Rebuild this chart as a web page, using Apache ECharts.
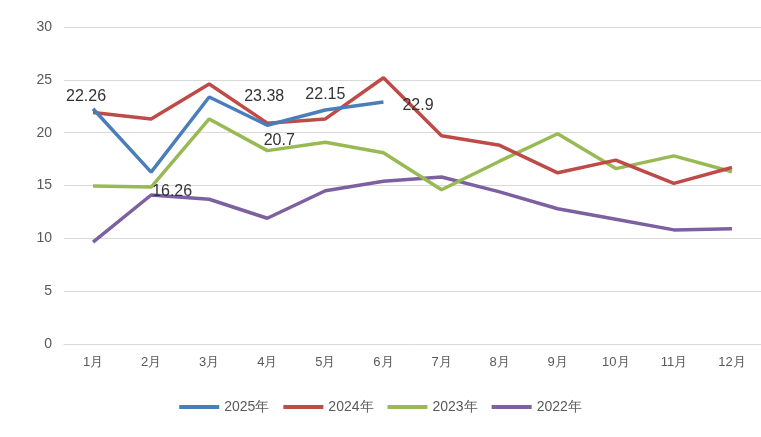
<!DOCTYPE html><html><head><meta charset="utf-8"><script src="https://cdn.jsdelivr.net/npm/echarts@6/dist/echarts.min.js"></script></head><body style="margin:0"><div id="c" style="width:761px;height:437px"></div><script>
const categories=['1月','2月','3月','4月','5月','6月','7月','8月','9月','10月','11月','12月'];
const s2025=[22.26,16.26,23.38,20.7,22.15,22.9];
const s2024=[21.9,21.3,24.6,20.9,21.3,25.2,19.7,18.8,16.2,17.4,15.2,16.7];
const s2023=[14.95,14.85,21.3,18.3,19.1,18.1,14.6,17.3,19.9,16.6,17.8,16.3];
const s2022=[9.65,14.1,13.7,11.9,14.5,15.4,15.8,14.4,12.8,11.8,10.8,10.9];
const labelPos=[['left',[18,-12]],['right',[-4,19]],['right',[30,0]],['bottom',[12,2]],['top',[0,-2]],['right',[14,4]]];
const ch=echarts.init(document.getElementById('c'));
const mk=(n,d,c,z)=>({name:n,type:'line',data:d,symbol:'circle',symbolSize:0,lineStyle:{width:3.5,color:c},itemStyle:{color:c},z});
const s25=mk('2025年',s2025.map((v,i)=>({value:v,label:{show:true,position:labelPos[i][0],offset:labelPos[i][1]}})),'#4a7ebb',5);
s25.label={fontSize:16,color:'#333',fontFamily:'Liberation Sans'};
ch.setOption({animation:false,
grid:{left:64,right:-12,top:27,bottom:93,containLabel:false},
legend:{bottom:18,left:'center',itemWidth:40,itemGap:14,textStyle:{fontSize:14,color:'#595959'},icon:'rect',itemHeight:4,data:['2025年','2024年','2023年','2022年']},
xAxis:{type:'category',data:categories,axisTick:{show:false},axisLine:{lineStyle:{color:'#d9d9d9'}},axisLabel:{color:'#595959',fontSize:13,margin:12}},
yAxis:{type:'value',min:0,max:30,interval:5,axisLabel:{color:'#595959',fontSize:14,margin:12},splitLine:{lineStyle:{color:'#d9d9d9'}}},
series:[s25,mk('2024年',s2024,'#be4b48',4),mk('2023年',s2023,'#98b954',3),mk('2022年',s2022,'#7d60a0',2)]});
</script></body></html>
